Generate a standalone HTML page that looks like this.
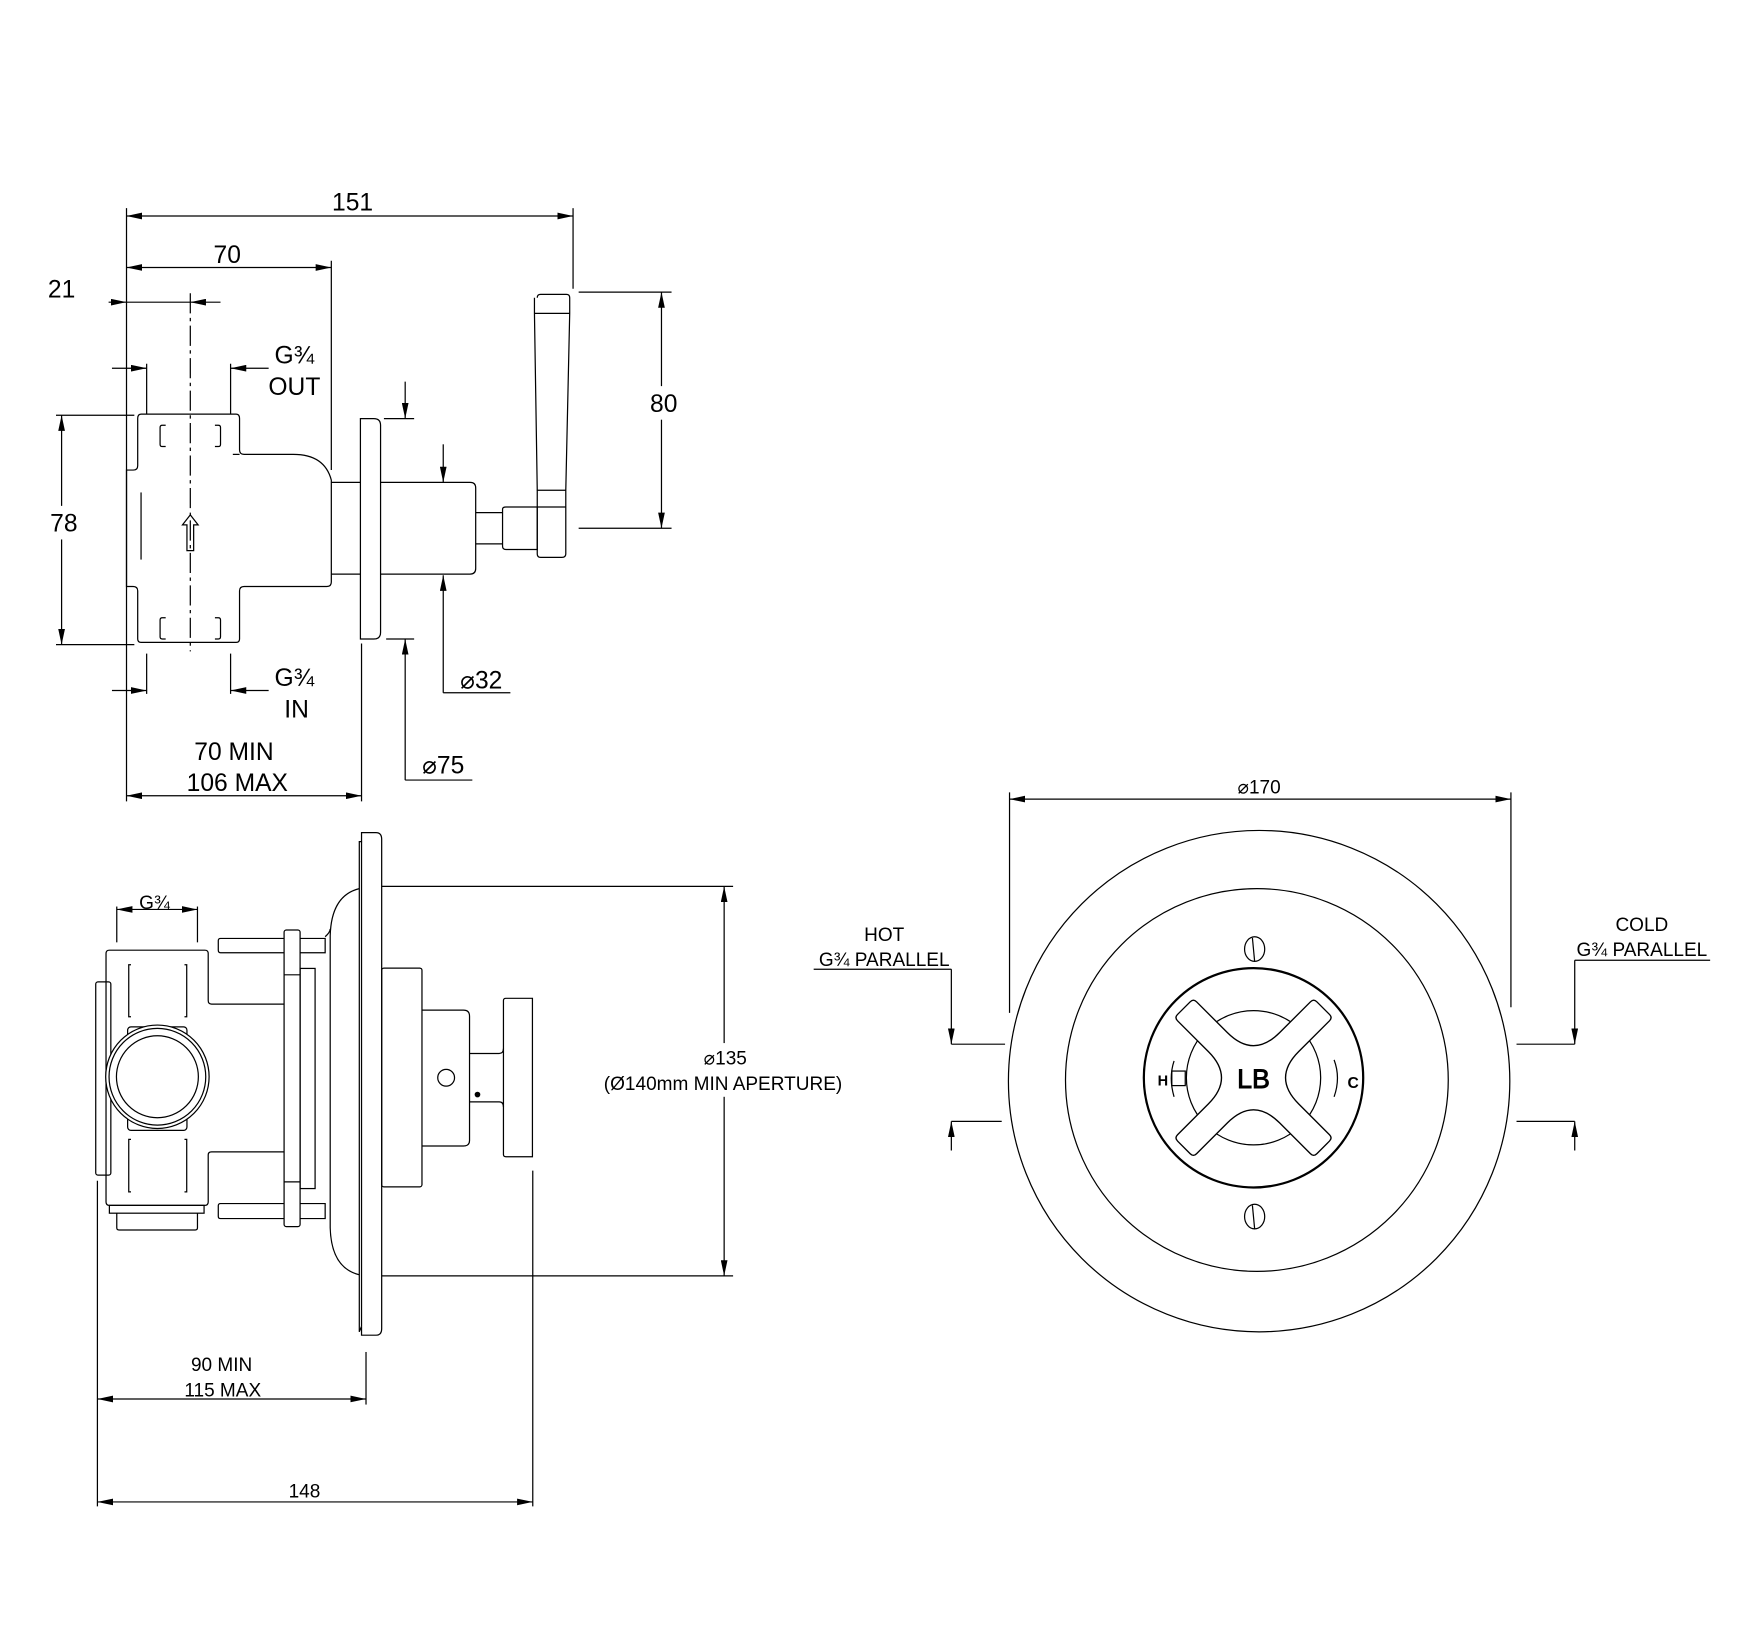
<!DOCTYPE html>
<html><head><meta charset="utf-8"><style>
html,body{margin:0;padding:0;background:#fff}
svg{display:block}
text{font-family:"Liberation Sans",sans-serif;fill:#000}
</style></head><body>
<svg width="1746" height="1634" viewBox="0 0 1560 1460" xmlns="http://www.w3.org/2000/svg">
<defs>
<marker id="a" viewBox="0 0 14 6" refX="14" refY="3" markerWidth="14" markerHeight="6" markerUnits="userSpaceOnUse" orient="auto-start-reverse"><path d="M0,0 L14,3 L0,6 z" fill="#000"/></marker>
</defs>
<g fill="none" stroke="#000" stroke-width="1.1">
<!-- TOP VIEW dims -->
<line x1="113" y1="186" x2="113" y2="716"/>
<line x1="512" y1="186" x2="512" y2="258"/>
<line x1="113" y1="193" x2="512" y2="193" marker-start="url(#a)" marker-end="url(#a)"/>
<line x1="296" y1="233" x2="296" y2="420"/>
<line x1="113" y1="239" x2="296" y2="239" marker-start="url(#a)" marker-end="url(#a)"/>
<line x1="97" y1="270" x2="113" y2="270" marker-end="url(#a)"/>
<line x1="113" y1="270" x2="170" y2="270"/>
<line x1="197" y1="270" x2="170" y2="270" marker-end="url(#a)"/>
<line x1="170" y1="262" x2="170" y2="582" stroke-dasharray="18,4,3,4"/>
<line x1="131" y1="325" x2="131" y2="370"/>
<line x1="206" y1="325" x2="206" y2="370"/>
<line x1="100" y1="329" x2="131" y2="329" marker-end="url(#a)"/>
<line x1="240" y1="329" x2="206" y2="329" marker-end="url(#a)"/>
<line x1="131" y1="584" x2="131" y2="620"/>
<line x1="206" y1="584" x2="206" y2="620"/>
<line x1="100" y1="617" x2="131" y2="617" marker-end="url(#a)"/>
<line x1="240" y1="617" x2="206" y2="617" marker-end="url(#a)"/>
<line x1="50" y1="371" x2="120" y2="371"/>
<line x1="50" y1="576" x2="120" y2="576"/>
<line x1="55" y1="371" x2="55" y2="576" marker-start="url(#a)" marker-end="url(#a)"/>
<line x1="517" y1="261" x2="600" y2="261"/>
<line x1="517" y1="472" x2="600" y2="472"/>
<line x1="591" y1="261" x2="591" y2="472" marker-start="url(#a)" marker-end="url(#a)"/>
<line x1="343" y1="374" x2="370" y2="374"/>
<line x1="362" y1="341" x2="362" y2="374" marker-end="url(#a)"/>
<line x1="345" y1="571" x2="370" y2="571"/>
<line x1="362" y1="697" x2="362" y2="571" marker-end="url(#a)"/>
<line x1="362" y1="697" x2="422" y2="697"/>
<line x1="396" y1="397" x2="396" y2="431" marker-end="url(#a)"/>
<line x1="396" y1="619" x2="396" y2="514" marker-end="url(#a)"/>
<line x1="396" y1="619" x2="456" y2="619"/>
<line x1="323" y1="575" x2="323" y2="716"/>
<line x1="113" y1="711" x2="323" y2="711" marker-start="url(#a)" marker-end="url(#a)"/>
<!-- TOP VIEW body -->
<path d="M126,370 H211 Q214,370 214,374 V402 Q214,406 218,406 H262 Q290,406 296,429 V520 Q296,524 292,524 H218 Q214,524 214,528 V571 Q214,574 211,574 H126 Q123,574 123,571 V528 Q123,524 119,524 H113 V420 H119 Q123,420 123,416 V374 Q123,370 126,370 Z"/>
<line x1="208" y1="406" x2="214" y2="406"/>
<path d="M148,380 h-3 q-2,0 -2,2 v15 q0,2 2,2 h3 M192,380 h3 q2,0 2,2 v15 q0,2 -2,2 h-3"/>
<path d="M148,552 h-3 q-2,0 -2,2 v15 q0,2 2,2 h3 M192,552 h3 q2,0 2,2 v15 q0,2 -2,2 h-3"/>
<path d="M167,492 V469 H163 L170,460 L177,469 H173 V492 Z"/>
<line x1="126" y1="440" x2="126" y2="500"/>
<line x1="296" y1="431" x2="322" y2="431"/>
<line x1="296" y1="513" x2="322" y2="513"/>
<path d="M322,374 H334 Q340,374 340,380 V565 Q340,571 334,571 H322 Z"/>
<path d="M340,431 H420 Q425,431 425,436 V508 Q425,513 420,513 H340"/>
<path d="M425,458 H449 M425,486 H449"/>
<path d="M449,455 Q449,453 452,453 H480 V491 H452 Q449,491 449,488 Z"/>
<path d="M480,266 Q480,263 483,263 H506 Q509,263 509,266 V280 L505.5,438 V495 Q505.5,498 502,498 H483 Q480,498 480,495 V438 L477.5,280 V266"/>
<line x1="477.5" y1="280" x2="509" y2="280"/>
<line x1="479.6" y1="438" x2="505.5" y2="438"/>
<line x1="480" y1="453" x2="505.5" y2="453"/>
<!-- BOTTOM-LEFT VIEW -->
<path d="M321,1190 V752 H323 V744 H336 Q341,744 341,750 V1187 Q341,1193 336,1193 H323 V1185 Z"/>
<line x1="323" y1="752" x2="323" y2="1185"/>
<path d="M321,794 Q296,800 295,836 V1097 Q296,1133 321,1139"/>
<path d="M290.5,837 Q295,833 295,830"/>
<line x1="341" y1="792" x2="655" y2="792"/>
<line x1="341" y1="1140" x2="655" y2="1140"/>
<line x1="647" y1="792" x2="647" y2="1140" marker-start="url(#a)" marker-end="url(#a)"/>
<rect x="341" y="865" width="36" height="195.5" rx="2"/>
<path d="M377,902.6 H414 Q419.5,902.6 419.5,908 V1019 Q419.5,1024 414,1024 H377"/>
<path d="M419.5,941.3 H446 Q449.8,941.3 449.8,937 M419.5,984.5 H446 Q449.8,984.5 449.8,989"/>
<path d="M449.8,894 Q449.8,892 452,892 H475.7 V1033.6 H452 Q449.8,1033.6 449.8,1031.6 Z"/>
<circle cx="398.6" cy="963" r="7.5"/>
<circle cx="426.6" cy="978" r="2" fill="#000"/>
<rect x="253.8" y="831" width="14.3" height="265" rx="2"/>
<line x1="253.8" y1="871" x2="268.1" y2="871"/>
<line x1="253.8" y1="1056" x2="268.1" y2="1056"/>
<rect x="268.1" y="865.3" width="13.4" height="196.7"/>
<path d="M268.1,838.5 H290.5 V851.3 H268.1 M268.1,1075.4 H290.5 V1088.8 H268.1"/>
<path d="M253.8,838.5 H197 Q195,838.5 195,840.5 V849 Q195,851.3 197,851.3 H253.8"/>
<path d="M253.8,1075.4 H197 Q195,1075.4 195,1077.4 V1086.8 Q195,1088.8 197,1088.8 H253.8"/>
<path d="M253.8,897.2 H189 Q186,897.2 186,894 V852 Q186,849 183,849 H97.7 Q94.7,849 94.7,852 V1074 Q94.7,1077 97.7,1077 H183 Q186,1077 186,1074 V1032 Q186,1029.2 189,1029.2 H253.8"/>
<rect x="85.5" y="877.3" width="13.5" height="172.7" rx="2"/>
<rect x="97.7" y="1077" width="84.6" height="7"/>
<path d="M104.3,1084 V1097 Q104.3,1099 106.3,1099 H174.4 Q176.4,1099 176.4,1097 V1084"/>
<path d="M117,862 h-2 v46.5 h2 M164.8,862 h2 v46.5 h-2 M117,1018 h-2 v47 h2 M164.8,1018 h2 v47 h-2"/>
<rect x="114" y="917.5" width="53" height="92.5" rx="3" fill="#fff"/>
<circle cx="140.6" cy="962.1" r="46.2" fill="#fff"/>
<circle cx="140.6" cy="962.1" r="43.2"/>
<circle cx="140.6" cy="962.1" r="36.6"/>
<line x1="104.3" y1="810" x2="104.3" y2="842"/>
<line x1="176.4" y1="810" x2="176.4" y2="842"/>
<line x1="104.3" y1="812.6" x2="176.4" y2="812.6" marker-start="url(#a)" marker-end="url(#a)"/>
<line x1="327" y1="1208" x2="327" y2="1255"/>
<line x1="87" y1="1055" x2="87" y2="1346"/>
<line x1="87" y1="1250" x2="327" y2="1250" marker-start="url(#a)" marker-end="url(#a)"/>
<line x1="476" y1="1046" x2="476" y2="1346"/>
<line x1="87" y1="1342" x2="476" y2="1342" marker-start="url(#a)" marker-end="url(#a)"/>
<!-- RIGHT VIEW -->
<circle cx="1125" cy="966" r="224"/>
<circle cx="1123" cy="965" r="171"/>
<circle cx="1120" cy="963" r="98" stroke-width="2"/>
<circle cx="1120" cy="963" r="60"/>
<g transform="translate(1120,963) rotate(45)" fill="#fff" stroke-width="1.2">
<path d="M-12,-84 Q-12,-88 -8,-88 H8 Q12,-88 12,-84 V-45 Q12,-12 45,-12 H84 Q88,-12 88,-8 V8 Q88,12 84,12 H45 Q12,12 12,45 V84 Q12,88 8,88 H-8 Q-12,88 -12,84 V45 Q-12,12 -45,12 H-84 Q-88,12 -88,8 V-8 Q-88,-12 -84,-12 H-45 Q-12,-12 -12,-45 Z"/>
</g>
<ellipse cx="1121" cy="848" rx="9" ry="11"/>
<line x1="1119" y1="838" x2="1121" y2="859"/>
<ellipse cx="1121" cy="1087" rx="9" ry="11"/>
<line x1="1119" y1="1077" x2="1121" y2="1098"/>
<path d="M1049,948 Q1044,963 1049,980"/>
<rect x="1047" y="957" width="12" height="13"/>
<path d="M1192,947 Q1198,963 1192,980"/>
<line x1="902" y1="708" x2="902" y2="905"/>
<line x1="1350" y1="708" x2="1350" y2="900"/>
<line x1="902" y1="714" x2="1350" y2="714" marker-start="url(#a)" marker-end="url(#a)"/>
<line x1="727" y1="866" x2="850" y2="866"/>
<line x1="850" y1="866" x2="850" y2="933" marker-end="url(#a)"/>
<line x1="850" y1="933" x2="898" y2="933"/>
<line x1="850" y1="1002" x2="895" y2="1002"/>
<line x1="850" y1="1028" x2="850" y2="1002" marker-end="url(#a)"/>
<line x1="1407" y1="858" x2="1528" y2="858"/>
<line x1="1407" y1="858" x2="1407" y2="933" marker-end="url(#a)"/>
<line x1="1355" y1="933" x2="1407" y2="933"/>
<line x1="1355" y1="1002" x2="1407" y2="1002"/>
<line x1="1407" y1="1028" x2="1407" y2="1002" marker-end="url(#a)"/>
</g>
<!-- label backgrounds -->
<g fill="#fff">
<rect x="40" y="452" width="34" height="30"/>
<rect x="576" y="345" width="34" height="30"/>
<rect x="530" y="932" width="232" height="48"/>
</g>
<!-- TEXT -->
<g font-size="22" text-anchor="middle">
<text x="315" y="188">151</text>
<text x="203" y="235">70</text>
<text x="55" y="266">21</text>
<text x="263" y="325">G¾</text>
<text x="263" y="353">OUT</text>
<text x="57" y="475">78</text>
<text x="593" y="368">80</text>
<text x="263" y="613">G¾</text>
<text x="265" y="641">IN</text>
<text x="430" y="615">⌀32</text>
<text x="396" y="691">⌀75</text>
<text x="209" y="679">70 MIN</text>
<text x="212" y="707">106 MAX</text>
</g>
<g font-size="17" text-anchor="middle">
<text x="138" y="812">G¾</text>
<text x="648" y="951">⌀135</text>
<text x="646" y="974">(Ø140mm MIN APERTURE)</text>
<text x="198" y="1225">90 MIN</text>
<text x="199" y="1248">115 MAX</text>
<text x="272" y="1338">148</text>
<text x="1125" y="709">⌀170</text>
<text x="790" y="841">HOT</text>
<text x="790" y="863">G¾ PARALLEL</text>
<text x="1467" y="832">COLD</text>
<text x="1467" y="854">G¾ PARALLEL</text>
<text x="1120" y="972" font-size="24" fill="#fff" stroke="#000" stroke-width="0.8">LB</text>
<text x="1039" y="970" font-size="13" font-weight="bold">H</text>
<text x="1209" y="972" font-size="14" font-weight="bold">C</text>
</g>
</svg>
</body></html>
